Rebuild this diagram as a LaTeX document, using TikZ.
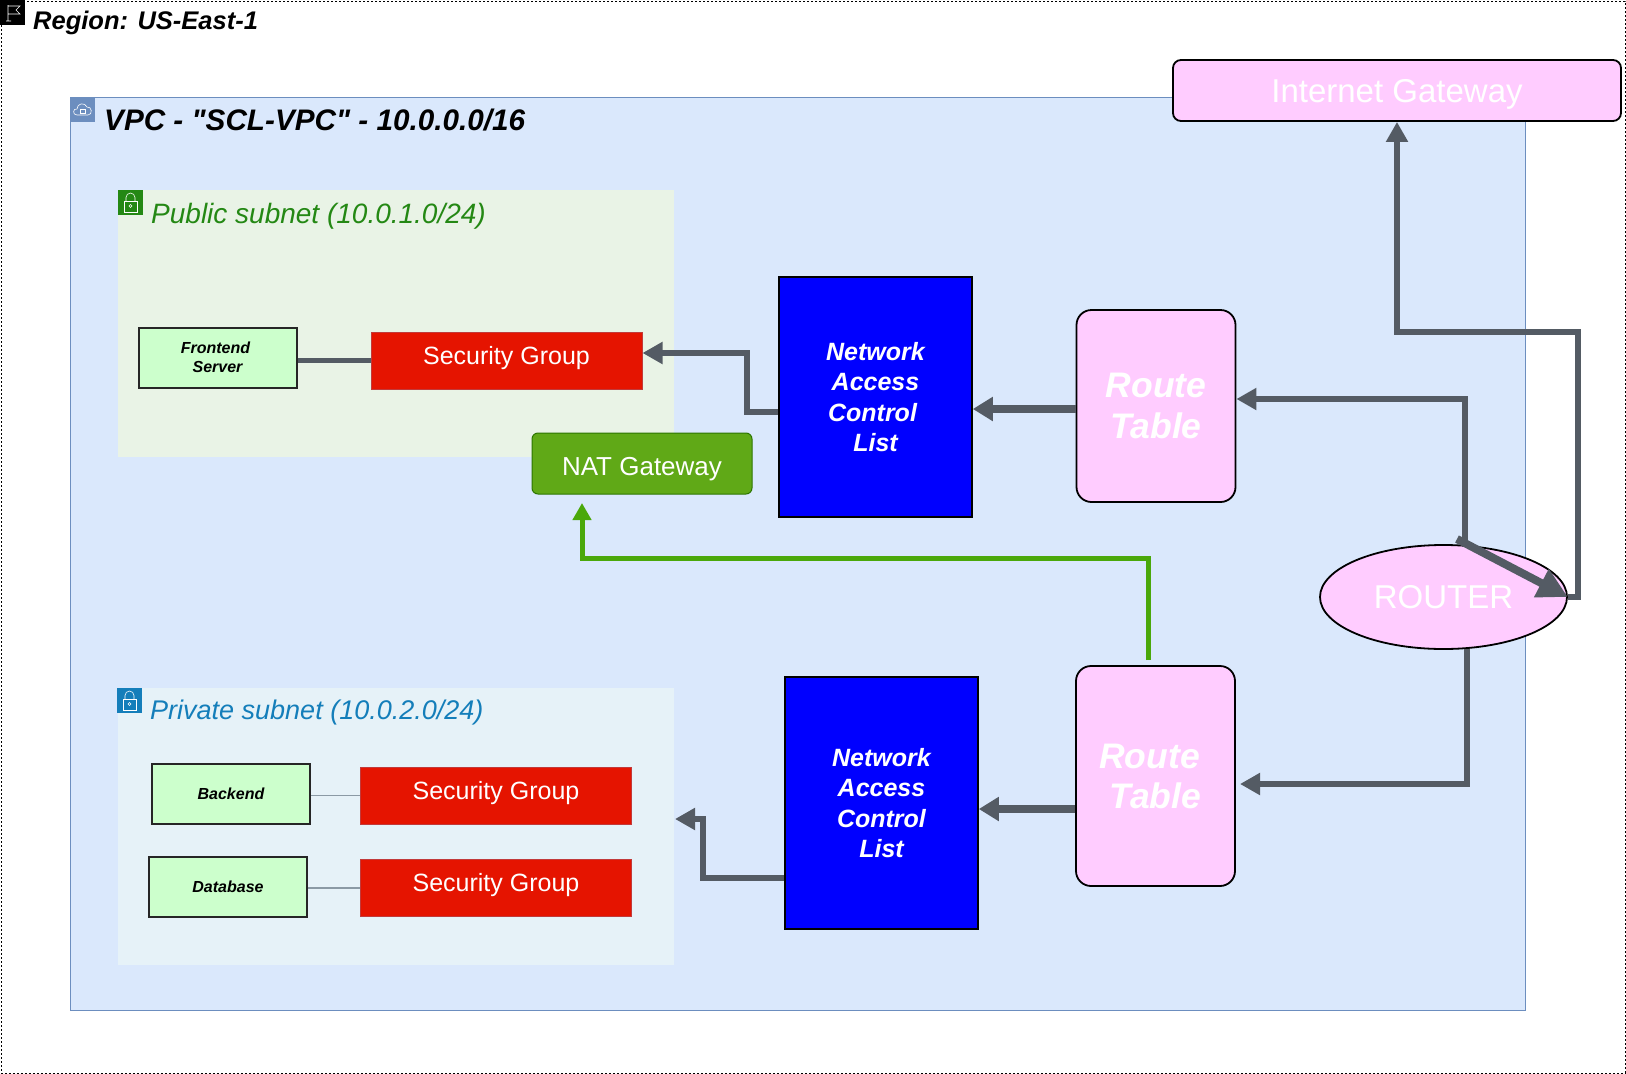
\documentclass[tikz,border=0pt]{standalone}
\usepackage{fontspec}
\setmainfont{Liberation Sans}
\newfontfamily\vpcfont{Liberation Sans}
\usepackage{xcolor}
\usepackage{tikz}
\usetikzlibrary{arrows.meta, shapes.geometric}
\definecolor{vpcFill}{HTML}{DAE8FC}
\definecolor{vpcLine}{HTML}{6C8EBF}
\definecolor{publicFill}{HTML}{E9F3E6}
\definecolor{publicGreen}{HTML}{248814}
\definecolor{privateFill}{HTML}{E6F2F8}
\definecolor{privateBlue}{HTML}{147EBA}
\definecolor{sgRed}{HTML}{E51400}
\definecolor{sgLine}{HTML}{C23A3A}
\definecolor{serverGreen}{HTML}{CCFFCC}
\definecolor{routePink}{HTML}{FFCCFF}
\definecolor{natGreen}{HTML}{60A917}
\definecolor{natLine}{HTML}{2D7600}
\definecolor{wireGrey}{HTML}{545B64}
\definecolor{thinGrey}{HTML}{8B9AA5}
\definecolor{wireGreen}{HTML}{4AA80A}
\newcommand{\fsz}[1]{\fontsize{#1}{#1}\selectfont}
\newcommand{\drop}[2]{\raisebox{#1}[0pt][0pt]{#2}}

\begin{document}
\begin{tikzpicture}[x=1pt, y=-1pt,
    box/.style={rectangle, inner sep=0pt, align=center},
    server/.style={box, draw=black!85, line width=2pt, fill=serverGreen, minimum width=158pt,
                   minimum height=60pt, font=\fsz{16}\bfseries\itshape},
    sgbox/.style={box, draw=sgLine, line width=1pt, fill=sgRed, text=white, minimum width=271pt,
                  minimum height=57pt, font=\fsz{25}},
    nacl/.style={box, draw=black, line width=1.6pt, fill=blue, text=white, minimum width=193pt,
                 font=\fsz{25}\bfseries\itshape},
    route/.style={box, rounded corners=15pt, draw=black, line width=1.8pt, fill=routePink, text=white,
                  minimum width=159pt, font=\fsz{35.5}\bfseries\itshape},
    subnet/.style={box, minimum width=556pt},
    title/.style={inner sep=0pt, anchor=west},
    wire/.style={draw=wireGrey, line width=6.5pt, -{Triangle[length=20pt, width=21pt]}},
    wirefat/.style={draw=wireGrey, line width=8pt, -{Triangle[length=20pt, width=23pt]}},
    icon/.style={line width=0.6pt, draw=white}]
  \useasboundingbox (0,0) rectangle (1626,1074);
  \draw[line width=1pt, dash pattern=on 2pt off 2pt] (1,1) rectangle (1625,1073);

  % containers
  \node[box, draw=vpcLine, line width=1pt, fill=vpcFill, minimum width=1455pt, minimum height=913pt] (vpc) at (797.5,553.5) {};
  \node[subnet, fill=publicFill, minimum height=267pt] (pubnet) at (396,323.5) {};
  \node[subnet, fill=privateFill, minimum height=277pt] (privnet) at (395.5,826.5) {};

  % corner icons
  \node[box, fill=black, minimum width=25pt, minimum height=25pt] (flagicon) at (12.5,12.5) {};
  \draw[icon] (8,21) -- (8,5) (6,21) -- (11,21) (8,6) -- (20,6) -- (16,10) -- (20,14) -- (8,14);
  \node[box, fill=vpcLine, minimum width=25pt, minimum height=25pt] (vpcicon) at (82.5,109.5) {};
  \draw[icon] (77,115) .. controls (72,115) and (73,108) .. (77,109) .. controls (77,103) and (85,102) .. (87,107)
    .. controls (92,106) and (93,115) .. (88,115) -- cycle;
  \draw[icon] (80,109) rectangle (85,113);
  \foreach \x/\y/\c/\n in {118/190/publicGreen/publock, 117/688/privateBlue/privlock} {
    \node[box, fill=\c, minimum width=25pt, minimum height=25pt] (\n) at (\x+12.5,\y+12.5) {};
    \draw[icon] (\x+6,\y+11) rectangle (\x+19,\y+22);
    \draw[icon] (\x+8,\y+11) -- (\x+8,\y+7.5) arc (180:360:4.5) -- (\x+17,\y+11);
    \draw[icon] (\x+12.5,\y+16) circle (1.5);
  }

  % titles
  \node[title, font=\fsz{25.5}\bfseries\itshape] (regiontxt) at (33,23) {Region: US-East-1};
  \node[title, font=\vpcfont\fsz{29.7}\bfseries\itshape] (vpctxt) at (104,120) {VPC - "SCL-VPC" - 10.0.0.0/16};
  \node[title, text=publicGreen, font=\fsz{28}\itshape] (pubtxt) at (151,216) {Public subnet (10.0.1.0/24)};
  \node[title, text=privateBlue, font=\fsz{27}\itshape] (privtxt) at (150,713) {Private subnet (10.0.2.0/24)};

  % servers and groups
  \node[server] (frontend) at (217.5,357.5) {Frontend\hbox to 4pt{}\\[3pt]Server};
  \node[server] (backend) at (231,793.5) {Backend};
  \node[server] (database) at (228,887) {Database};
  \node[sgbox] (sgfront) at (506.5,361) {\drop{-3pt}{Security Group}};
  \node[sgbox] (sgback) at (496,795.5) {\drop{-3.5pt}{Security Group}};
  \node[sgbox] (sgdata) at (496,888) {\drop{-3.5pt}{Security Group}};
  \node[box, rounded corners=6pt, draw=natLine, line width=1pt, fill=natGreen, text=white,
        minimum width=220pt, minimum height=61pt, font=\fsz{26}] (nat) at (642,463.5) {\drop{-11.5pt}{NAT Gateway}};

  % nacl and route tables
  \node[nacl, minimum height=240pt] (naclpub) at (875.5,397) {Network\\[5.5pt]Access\\[5.5pt]Control\hbox to 6pt{}\\[5.5pt]List};
  \node[nacl, minimum height=252pt] (naclpriv) at (881.5,803) {Network\\[5.5pt]Access\\[5.5pt]Control\\[5.5pt]List};
  \node[route, minimum height=192pt] (routepub) at (1156,406) {Route\\[6pt]Table};
  \node[route, minimum height=220pt] (routepriv) at (1155.5,776) {Route\hbox to 12pt{}\\[4.5pt]Table};
  \node[ellipse, inner sep=0pt, draw=black, line width=1.8pt, fill=routePink, text=white, minimum width=247pt,
        minimum height=104pt, font=\fsz{33}] (router) at (1443.5,597) {ROUTER};
  \node[box, rounded corners=8pt, draw=black, line width=1.8pt, fill=routePink, text=white, minimum width=448pt,
        minimum height=61pt, font=\fsz{33}] (igw) at (1397,90.5) {\drop{-11.5pt}{Internet Gateway}};

  % free ends
  \coordinate (routerout) at (1465,541);
  \coordinate (routerin) at (1457,539);
  \coordinate (privin) at (675,819);
  \coordinate (natin) at (582,503);
  \coordinate (greenout) at (1148,660);
  \coordinate (routeprivin) at (1240,784);

  % connectors
  \draw[draw=wireGrey, line width=5pt] (frontend.east |- 0,360) -- (sgfront.west |- 0,360);
  \draw[draw=thinGrey, line width=1.2pt] (backend.east |- sgback) -- (sgback);
  \draw[draw=thinGrey, line width=1.2pt] (database.east |- sgdata) -- (sgdata);
  \draw[wire] (naclpub.west |- 0,412) -- (747,412) -- (747,353) -- (sgfront.east |- 0,353);
  \draw[wire] (naclpriv.west |- 0,878) -- (703,878) -- (703,819) -- (privin);
  \draw[wirefat] (routepub.west |- 0,409) -- (naclpub.east |- 0,409);
  \draw[wirefat] (routepriv.west |- 0,809) -- (naclpriv.east |- 0,809);
  \draw[wire] (routerout) -- (1465,399) -- (routepub.east |- 0,399);
  \draw[wire] (1467,649) -- (1467,784) -- (routeprivin);
  \draw[wire] (router.east) -- (1578,597) -- (1578,332) -- (1397,332) -- (igw.south);
  \draw[draw=wireGrey, line width=8pt, -{Triangle[length=30pt, width=30pt]}] (routerin) -- (router.east);
  \draw[draw=wireGreen, line width=5pt, -{Triangle[length=17pt, width=18pt]}] (greenout) -- (1148,558) -- (582,558) -- (natin);
\end{tikzpicture}
\end{document}
